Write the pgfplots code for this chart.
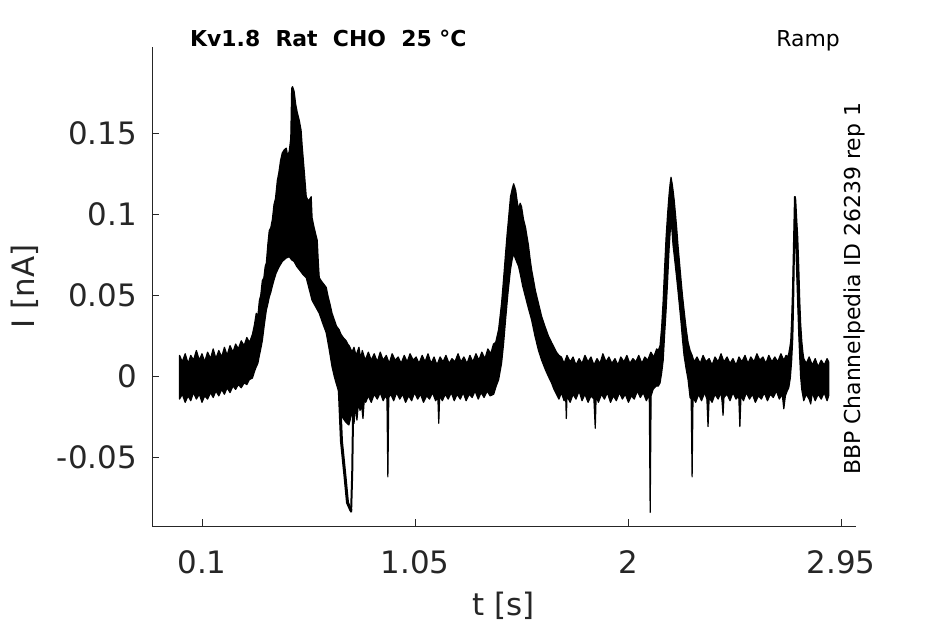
\documentclass[border=0pt]{standalone}
\usepackage{fontspec}
\setmainfont{DejaVu Sans}
\usepackage{pgfplots}
\usepackage{pgfplotstable}
\pgfplotsset{compat=1.18}
\definecolor{axgray}{RGB}{38,38,38}

\pgfplotstableread{
t I
0.000 0.013
0.012 0.009
0.025 0.014
0.038 0.008
0.050 0.013
0.062 0.010
0.075 0.016
0.088 0.010
0.100 0.014
0.112 0.009
0.125 0.015
0.138 0.011
0.150 0.017
0.162 0.011
0.175 0.016
0.188 0.012
0.200 0.018
0.212 0.013
0.225 0.019
0.238 0.015
0.250 0.020
0.262 0.017
0.275 0.022
0.288 0.019
0.300 0.024
0.312 0.021
0.325 0.026
0.334 0.032
0.342 0.039
0.349 0.037
0.356 0.047
0.362 0.050
0.369 0.059
0.376 0.061
0.382 0.068
0.387 0.070
0.394 0.082
0.400 0.090
0.407 0.092
0.414 0.097
0.421 0.106
0.428 0.110
0.436 0.121
0.443 0.126
0.450 0.133
0.458 0.138
0.467 0.140
0.476 0.141
0.482 0.136
0.489 0.139
0.496 0.147
0.500 0.178
0.504 0.179
0.511 0.176
0.518 0.168
0.525 0.163
0.534 0.158
0.542 0.152
0.547 0.142
0.556 0.127
0.565 0.111
0.572 0.109
0.578 0.109
0.587 0.111
0.591 0.098
0.600 0.092
0.607 0.088
0.614 0.084
0.619 0.070
0.623 0.061
0.632 0.059
0.643 0.057
0.654 0.055
0.663 0.049
0.672 0.044
0.680 0.039
0.690 0.035
0.700 0.031
0.711 0.029
0.720 0.026
0.730 0.024
0.743 0.022
0.750 0.020
0.756 0.019
0.763 0.017
0.769 0.015
0.778 0.018
0.787 0.013
0.800 0.018
0.808 0.011
0.815 0.016
0.828 0.010
0.842 0.015
0.855 0.010
0.868 0.014
0.882 0.009
0.895 0.015
0.908 0.010
0.922 0.013
0.935 0.008
0.948 0.014
0.962 0.010
0.975 0.012
0.988 0.008
1.002 0.013
1.015 0.009
1.028 0.014
1.042 0.010
1.055 0.012
1.068 0.008
1.082 0.013
1.095 0.009
1.108 0.014
1.122 0.008
1.135 0.012
1.148 0.007
1.162 0.012
1.175 0.009
1.188 0.013
1.202 0.008
1.215 0.011
1.228 0.009
1.242 0.014
1.255 0.009
1.268 0.012
1.282 0.008
1.295 0.013
1.308 0.009
1.322 0.014
1.335 0.010
1.348 0.015
1.362 0.011
1.375 0.017
1.388 0.014
1.400 0.020
1.410 0.021
1.423 0.029
1.436 0.045
1.445 0.060
1.454 0.076
1.461 0.088
1.467 0.097
1.476 0.111
1.484 0.116
1.490 0.119
1.499 0.115
1.506 0.108
1.512 0.103
1.519 0.107
1.525 0.105
1.534 0.097
1.543 0.092
1.550 0.086
1.556 0.081
1.563 0.073
1.570 0.066
1.578 0.060
1.587 0.053
1.594 0.049
1.601 0.045
1.615 0.037
1.632 0.030
1.645 0.025
1.659 0.021
1.670 0.018
1.681 0.015
1.692 0.013
1.703 0.012
1.715 0.008
1.728 0.013
1.742 0.009
1.755 0.012
1.768 0.007
1.782 0.011
1.795 0.008
1.808 0.013
1.822 0.009
1.835 0.012
1.848 0.007
1.862 0.011
1.875 0.008
1.888 0.014
1.902 0.009
1.915 0.012
1.928 0.008
1.942 0.011
1.955 0.007
1.968 0.012
1.982 0.009
1.995 0.013
2.008 0.008
2.022 0.011
2.035 0.009
2.048 0.013
2.062 0.008
2.075 0.012
2.088 0.010
2.102 0.015
2.115 0.012
2.128 0.017
2.135 0.016
2.143 0.019
2.150 0.030
2.157 0.047
2.163 0.066
2.170 0.086
2.177 0.101
2.183 0.112
2.188 0.119
2.192 0.123
2.197 0.119
2.201 0.115
2.206 0.109
2.210 0.103
2.217 0.092
2.223 0.081
2.230 0.070
2.237 0.059
2.243 0.050
2.250 0.041
2.259 0.030
2.268 0.021
2.277 0.016
2.286 0.013
2.295 0.009
2.308 0.012
2.322 0.008
2.335 0.013
2.348 0.009
2.362 0.011
2.375 0.007
2.388 0.012
2.402 0.009
2.415 0.014
2.428 0.009
2.442 0.012
2.455 0.008
2.468 0.011
2.482 0.007
2.495 0.012
2.508 0.009
2.522 0.013
2.535 0.008
2.548 0.012
2.562 0.009
2.575 0.014
2.588 0.010
2.602 0.012
2.615 0.008
2.628 0.013
2.642 0.009
2.655 0.012
2.668 0.009
2.682 0.014
2.695 0.010
2.705 0.013
2.712 0.012
2.717 0.014
2.722 0.018
2.726 0.022
2.730 0.035
2.734 0.053
2.739 0.085
2.743 0.111
2.746 0.111
2.748 0.109
2.752 0.098
2.757 0.086
2.762 0.066
2.766 0.047
2.770 0.033
2.775 0.022
2.780 0.015
2.784 0.011
2.795 0.008
2.808 0.012
2.822 0.007
2.835 0.011
2.848 0.006
2.862 0.010
2.875 0.007
2.888 0.011
2.895 0.009
}\uppertab

\pgfplotstableread{
t I
0.000 -0.014
0.012 -0.011
0.025 -0.016
0.038 -0.012
0.050 -0.015
0.062 -0.010
0.075 -0.014
0.088 -0.011
0.100 -0.016
0.112 -0.012
0.125 -0.014
0.138 -0.010
0.150 -0.013
0.162 -0.009
0.175 -0.012
0.188 -0.008
0.200 -0.011
0.212 -0.007
0.225 -0.010
0.238 -0.006
0.250 -0.008
0.262 -0.005
0.275 -0.007
0.288 -0.004
0.300 -0.005
0.311 -0.002
0.325 -0.001
0.334 0.003
0.342 0.006
0.349 0.008
0.356 0.013
0.362 0.017
0.369 0.022
0.378 0.032
0.387 0.041
0.394 0.045
0.400 0.049
0.407 0.052
0.414 0.056
0.422 0.060
0.431 0.064
0.445 0.068
0.458 0.071
0.474 0.073
0.489 0.074
0.500 0.072
0.511 0.071
0.522 0.068
0.534 0.066
0.550 0.063
0.565 0.061
0.578 0.054
0.591 0.047
0.607 0.043
0.623 0.039
0.638 0.033
0.654 0.027
0.667 0.017
0.680 0.006
0.690 0.000
0.698 -0.004
0.711 -0.010
0.725 -0.025
0.740 -0.028
0.755 -0.030
0.770 -0.022
0.778 -0.029
0.785 -0.018
0.791 -0.027
0.798 -0.016
0.805 -0.021
0.812 -0.018
0.818 -0.026
0.824 -0.014
0.830 -0.016
0.842 -0.012
0.855 -0.016
0.868 -0.011
0.882 -0.014
0.895 -0.010
0.908 -0.015
0.918 -0.012
0.925 -0.014
0.929 -0.062
0.933 -0.013
0.942 -0.011
0.955 -0.015
0.968 -0.010
0.982 -0.014
0.995 -0.011
1.008 -0.016
1.022 -0.012
1.035 -0.015
1.048 -0.010
1.062 -0.014
1.075 -0.011
1.088 -0.016
1.102 -0.012
1.115 -0.014
1.128 -0.010
1.142 -0.015
1.152 -0.013
1.156 -0.029
1.160 -0.012
1.172 -0.015
1.185 -0.011
1.198 -0.014
1.212 -0.010
1.225 -0.015
1.238 -0.011
1.252 -0.014
1.265 -0.010
1.278 -0.015
1.292 -0.011
1.305 -0.013
1.318 -0.009
1.332 -0.014
1.345 -0.010
1.358 -0.013
1.372 -0.009
1.385 -0.012
1.401 -0.011
1.412 -0.006
1.423 -0.002
1.436 0.008
1.445 0.020
1.454 0.035
1.465 0.052
1.476 0.066
1.483 0.072
1.490 0.076
1.497 0.073
1.503 0.071
1.512 0.068
1.520 0.063
1.530 0.056
1.543 0.049
1.556 0.042
1.570 0.035
1.585 0.025
1.601 0.016
1.615 0.010
1.632 0.004
1.645 0.000
1.659 -0.004
1.670 -0.008
1.681 -0.011
1.692 -0.014
1.703 -0.010
1.715 -0.015
1.722 -0.012
1.725 -0.026
1.728 -0.012
1.742 -0.016
1.755 -0.011
1.768 -0.014
1.782 -0.009
1.795 -0.015
1.808 -0.011
1.822 -0.016
1.835 -0.012
1.848 -0.014
1.854 -0.032
1.858 -0.012
1.868 -0.016
1.882 -0.011
1.895 -0.014
1.908 -0.010
1.922 -0.016
1.935 -0.012
1.948 -0.015
1.962 -0.010
1.975 -0.014
1.988 -0.011
2.002 -0.016
2.015 -0.012
2.028 -0.014
2.042 -0.009
2.055 -0.013
2.068 -0.010
2.082 -0.015
2.095 -0.011
2.099 -0.084
2.103 -0.012
2.112 -0.008
2.125 -0.006
2.135 -0.006
2.143 -0.004
2.150 0.002
2.157 0.010
2.163 0.025
2.170 0.041
2.177 0.060
2.183 0.078
2.188 0.089
2.192 0.096
2.197 0.089
2.201 0.081
2.206 0.075
2.210 0.070
2.217 0.061
2.223 0.053
2.230 0.043
2.237 0.033
2.243 0.023
2.250 0.013
2.259 0.005
2.268 -0.002
2.277 -0.013
2.282 -0.014
2.286 -0.062
2.290 -0.013
2.302 -0.016
2.315 -0.011
2.328 -0.015
2.342 -0.010
2.352 -0.014
2.357 -0.031
2.362 -0.013
2.375 -0.016
2.388 -0.011
2.402 -0.014
2.415 -0.010
2.420 -0.016
2.424 -0.024
2.428 -0.013
2.442 -0.011
2.455 -0.015
2.468 -0.010
2.482 -0.014
2.494 -0.012
2.499 -0.031
2.504 -0.012
2.515 -0.015
2.528 -0.010
2.542 -0.014
2.555 -0.011
2.568 -0.016
2.582 -0.012
2.595 -0.014
2.608 -0.010
2.622 -0.015
2.635 -0.011
2.648 -0.013
2.662 -0.009
2.675 -0.014
2.688 -0.011
2.695 -0.020
2.702 -0.012
2.710 -0.009
2.717 -0.007
2.724 -0.001
2.730 0.010
2.735 0.024
2.739 0.050
2.743 0.086
2.748 0.084
2.752 0.066
2.757 0.045
2.762 0.025
2.766 0.012
2.770 0.000
2.775 -0.008
2.784 -0.015
2.795 -0.011
2.808 -0.014
2.815 -0.017
2.822 -0.010
2.835 -0.015
2.848 -0.011
2.862 -0.014
2.875 -0.010
2.888 -0.015
2.895 -0.012
}\lowertab

\pgfplotstablesort[sort key=t, sort cmp=float >]{\lowerrev}{\lowertab}
\pgfplotstablevertcat{\uppertab}{\lowerrev}

\begin{document}
\begin{tikzpicture}
\path[use as bounding box] (0,0) rectangle (945bp,624bp);
\begin{axis}[
  at={(152bp,98bp)}, anchor=south west,
  scale only axis, width=704bp, height=479bp,
  xmin=-0.123, xmax=3.017, ymin=-0.0924, ymax=0.2035,
  axis x line=bottom, axis y line=left,
  axis line style={axgray, line width=0.9bp, -},
  xtick={0.1,1.05,2,2.95}, xticklabels={0.1,1.05,2,2.95},
  ytick={-0.05,0,0.05,0.1,0.15}, yticklabels={-0.05,0,0.05,0.1,0.15},
  tick style={axgray, line width=0.9bp},
  tick align=inside, major tick length=7bp,
  ticklabel style={font=\fontsize{31}{37}\selectfont, text=axgray},
  xticklabel style={anchor=north, inner sep=0pt, yshift=-24bp},
  yticklabel style={anchor=east, inner sep=0pt, xshift=-15bp},
  xlabel={t [s]}, ylabel={I [nA]},
  label style={font=\fontsize{31}{37}\selectfont, text=axgray},
  xlabel style={at={(axis description cs:0.5,-0.1858)}, anchor=base, inner sep=0pt},
  ylabel style={at={(axis description cs:-0.1662,0.5)}, anchor=base, inner sep=0pt},
  clip=false,
]
\addplot[fill=black, draw=black, line width=1.2bp, line join=round] table[x=t, y=I] {\uppertab} -- cycle;
\addplot[draw=black, line width=3bp, line join=round] coordinates {(0.711,-0.004) (0.722,-0.040) (0.738,-0.062) (0.749,-0.078) (0.765,-0.083)};
\addplot[draw=black, line width=2bp, line join=round] coordinates {(0.765,-0.084) (0.770,-0.060) (0.775,-0.012)};
\end{axis}
\node[anchor=base west, inner sep=0pt, font=\fontsize{22}{26}\selectfont\bfseries] at (190bp,577.3bp) {Kv1.8\ \ Rat\ \ CHO\ \ 25 °C};
\node[anchor=base east, inner sep=0pt, font=\fontsize{22}{26}\selectfont] at (840bp,577.3bp) {Ramp};
\node[anchor=base west, rotate=90, inner sep=0pt, font=\fontsize{22}{26}\selectfont] at (860bp,149bp) {BBP Channelpedia ID 26239 rep 1};
\end{tikzpicture}
\end{document}
